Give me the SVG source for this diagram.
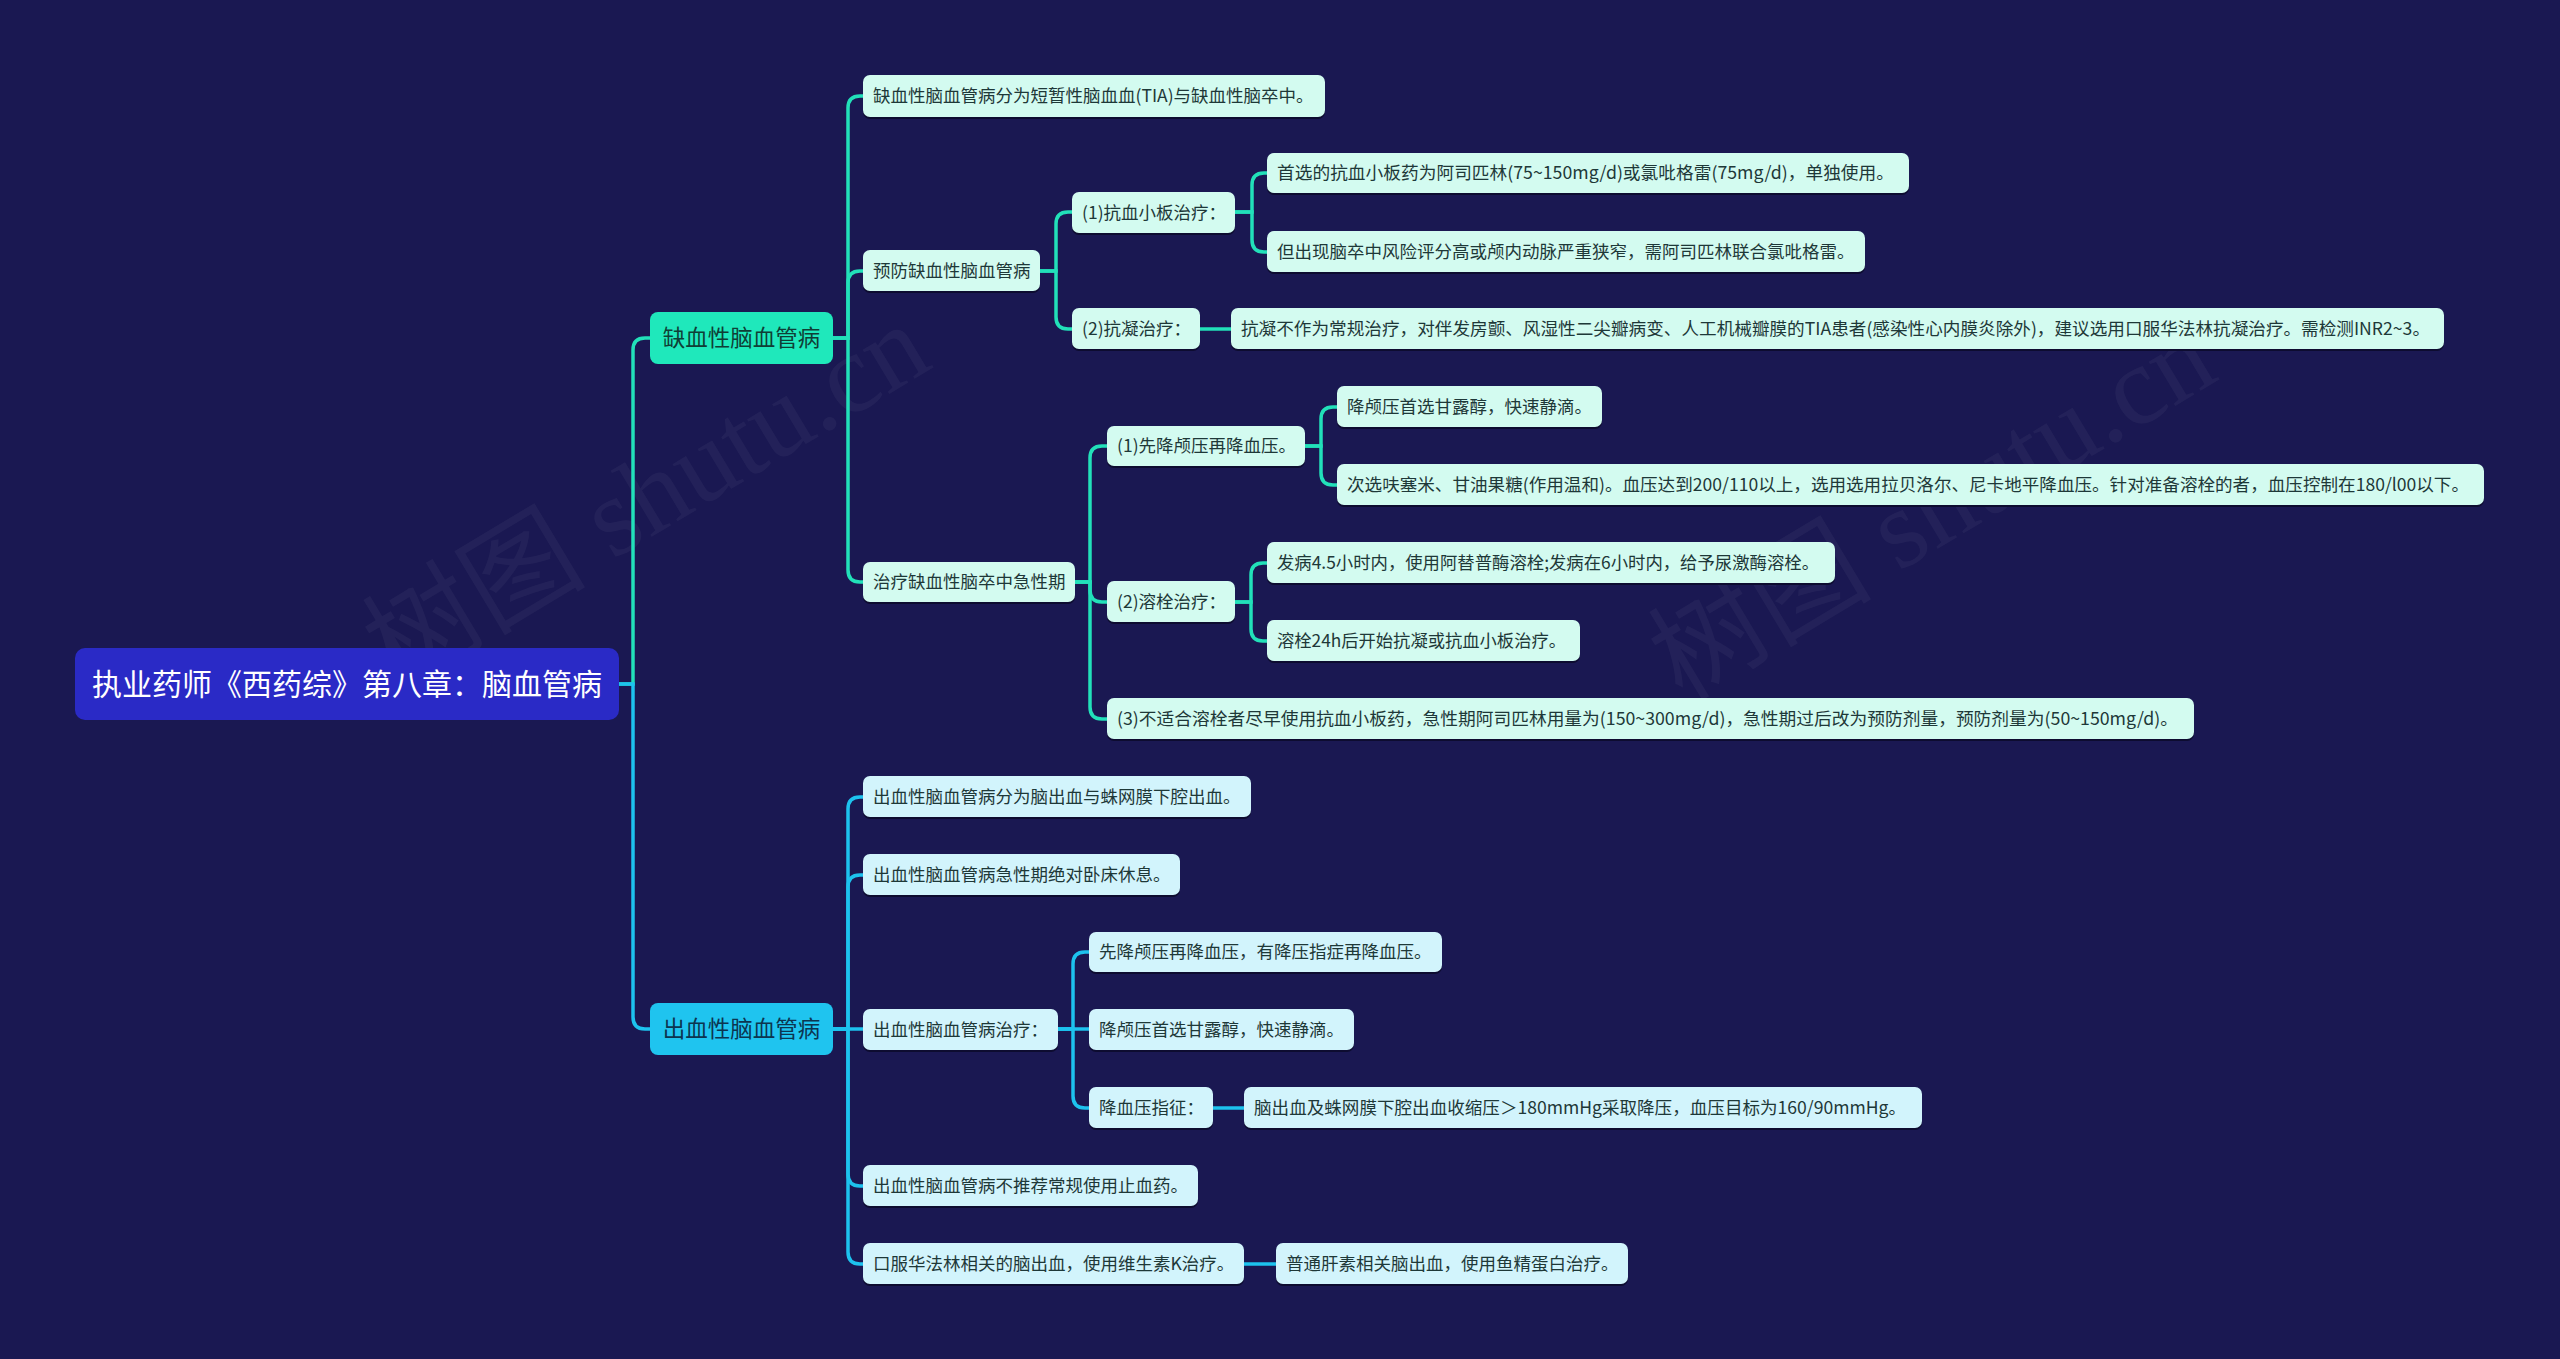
<svg xmlns="http://www.w3.org/2000/svg" width="2560" height="1359" viewBox="0 0 2560 1359">
<defs>
<style>
.bg{fill:#1a1852}
.wm{font-family:"Liberation Serif","Noto Sans CJK SC",serif;font-size:112px;fill:#ffffff;fill-opacity:0.045}
.root rect.b{fill:#2a2ac6}
.root text{font-family:"Noto Sans CJK SC","Noto Sans",sans-serif;font-size:30px;fill:#ffffff}
.l1 text{font-family:"Noto Sans CJK SC","Noto Sans",sans-serif;font-size:22.5px}
.isc rect.b{fill:#1fe8bb}
.isc text{fill:#0f3f36}
.hem rect.b{fill:#1fc4ef}
.hem text{fill:#0c3550}
.leaf text{font-family:"Noto Sans CJK SC","Noto Sans",sans-serif;font-size:17.5px;fill:#1e3838}
.li rect.b{fill:#d3fbf0}
.lh rect.b{fill:#d2f4fc}
rect.s{fill:#0d0c30}
.ci{fill:none;stroke:#22e0b9;stroke-width:3.5}
.ch{fill:none;stroke:#1dc2ee;stroke-width:3.5}
</style>
</defs>
<rect class="bg" x="0" y="0" width="2560" height="1359"/>
<g id="watermarks">
<text class="wm" x="645" y="534" text-anchor="middle" transform="rotate(-31 645 494)">树图 shutu.cn</text>
<text class="wm" x="1931" y="546" text-anchor="middle" transform="rotate(-31 1931 506)">树图 shutu.cn</text>
</g>
<g id="connectors">
<path class="ci" d="M619,684 H633 V350 Q633,338 645,338 H650"/>
<path class="ch" d="M619,684 H633 V1017 Q633,1029 645,1029 H650"/>
<path class="ci" d="M833,338 H848 V108 Q848,96 860,96 H863"/>
<path class="ci" d="M833,338 H848 V283 Q848,271 860,271 H863"/>
<path class="ci" d="M833,338 H848 V570 Q848,582 860,582 H863"/>
<path class="ci" d="M1040,271 H1056 V224 Q1056,212 1068,212 H1072"/>
<path class="ci" d="M1040,271 H1056 V317 Q1056,329 1068,329 H1072"/>
<path class="ci" d="M1235,212 H1252 V185 Q1252,173 1264,173 H1267"/>
<path class="ci" d="M1235,212 H1252 V240 Q1252,252 1264,252 H1267"/>
<path class="ci" d="M1200,329 H1231"/>
<path class="ci" d="M1075,582 H1090 V458 Q1090,446 1102,446 H1107"/>
<path class="ci" d="M1075,582 H1090 V590 Q1090,602 1102,602 H1107"/>
<path class="ci" d="M1075,582 H1090 V707 Q1090,719 1102,719 H1107"/>
<path class="ci" d="M1305,446 H1321 V419 Q1321,407 1333,407 H1337"/>
<path class="ci" d="M1305,446 H1321 V473 Q1321,485 1333,485 H1337"/>
<path class="ci" d="M1235,602 H1251 V575 Q1251,563 1263,563 H1267"/>
<path class="ci" d="M1235,602 H1251 V629 Q1251,641 1263,641 H1267"/>
<path class="ch" d="M833,1029 H848 V809 Q848,797 860,797 H863"/>
<path class="ch" d="M833,1029 H848 V887 Q848,875 860,875 H863"/>
<path class="ch" d="M833,1029 H863"/>
<path class="ch" d="M833,1029 H848 V1174 Q848,1186 860,1186 H863"/>
<path class="ch" d="M833,1029 H848 V1252 Q848,1264 860,1264 H863"/>
<path class="ch" d="M1058,1029 H1073 V964 Q1073,952 1085,952 H1089"/>
<path class="ch" d="M1058,1029 H1089"/>
<path class="ch" d="M1058,1029 H1073 V1096 Q1073,1108 1085,1108 H1089"/>
<path class="ch" d="M1213,1108 H1244"/>
<path class="ch" d="M1244,1264 H1276"/>
</g>
<g id="root" class="root">
<rect class="b" x="75" y="648" width="544" height="72" rx="10"/>
<text x="347" y="695" text-anchor="middle">执业药师《西药综》第八章：脑血管病</text>
</g>
<g id="n-isc" class="l1 isc">
<rect class="b" x="650" y="312" width="183" height="52" rx="8"/>
<text x="741.5" y="346" text-anchor="middle">缺血性脑血管病</text>
</g>
<g id="n-hem" class="l1 hem">
<rect class="b" x="650" y="1003" width="183" height="52" rx="8"/>
<text x="741.5" y="1037" text-anchor="middle">出血性脑血管病</text>
</g>
<g id="a1" class="leaf li">
<rect class="s" x="863" y="77" width="462" height="42" rx="7"/>
<rect class="b" x="863" y="75" width="462" height="42" rx="7"/>
<text x="873" y="102">缺血性脑血管病分为短暂性脑血血(TIA)与缺血性脑卒中。</text>
</g>
<g id="a2" class="leaf li">
<rect class="s" x="863" y="252" width="177" height="41" rx="7"/>
<rect class="b" x="863" y="250" width="177" height="41" rx="7"/>
<text x="873" y="277">预防缺血性脑血管病</text>
</g>
<g id="a3" class="leaf li">
<rect class="s" x="863" y="564" width="212" height="40" rx="7"/>
<rect class="b" x="863" y="562" width="212" height="40" rx="7"/>
<text x="873" y="588">治疗缺血性脑卒中急性期</text>
</g>
<g id="b1" class="leaf li">
<rect class="s" x="1072" y="194" width="163" height="41" rx="7"/>
<rect class="b" x="1072" y="192" width="163" height="41" rx="7"/>
<text x="1082" y="219">(1)抗血小板治疗：</text>
</g>
<g id="b2" class="leaf li">
<rect class="s" x="1072" y="310" width="128" height="41" rx="7"/>
<rect class="b" x="1072" y="308" width="128" height="41" rx="7"/>
<text x="1082" y="335">(2)抗凝治疗：</text>
</g>
<g id="c1" class="leaf li">
<rect class="s" x="1267" y="155" width="642" height="40" rx="7"/>
<rect class="b" x="1267" y="153" width="642" height="40" rx="7"/>
<text x="1277" y="179" textLength="617" lengthAdjust="spacingAndGlyphs">首选的抗血小板药为阿司匹林(75~150mg/d)或氯吡格雷(75mg/d)，单独使用。</text>
</g>
<g id="c2" class="leaf li">
<rect class="s" x="1267" y="233" width="598" height="41" rx="7"/>
<rect class="b" x="1267" y="231" width="598" height="41" rx="7"/>
<text x="1277" y="258">但出现脑卒中风险评分高或颅内动脉严重狭窄，需阿司匹林联合氯吡格雷。</text>
</g>
<g id="c3" class="leaf li">
<rect class="s" x="1231" y="310" width="1213" height="41" rx="7"/>
<rect class="b" x="1231" y="308" width="1213" height="41" rx="7"/>
<text x="1241" y="335" textLength="1189" lengthAdjust="spacingAndGlyphs">抗凝不作为常规治疗，对伴发房颤、风湿性二尖瓣病变、人工机械瓣膜的TIA患者(感染性心内膜炎除外)，建议选用口服华法林抗凝治疗。需检测INR2~3。</text>
</g>
<g id="d1" class="leaf li">
<rect class="s" x="1107" y="428" width="198" height="40" rx="7"/>
<rect class="b" x="1107" y="426" width="198" height="40" rx="7"/>
<text x="1117" y="452">(1)先降颅压再降血压。</text>
</g>
<g id="d2" class="leaf li">
<rect class="s" x="1107" y="583" width="128" height="41" rx="7"/>
<rect class="b" x="1107" y="581" width="128" height="41" rx="7"/>
<text x="1117" y="608">(2)溶栓治疗：</text>
</g>
<g id="d3" class="leaf li">
<rect class="s" x="1107" y="700" width="1087" height="41" rx="7"/>
<rect class="b" x="1107" y="698" width="1087" height="41" rx="7"/>
<text x="1117" y="725" textLength="1061" lengthAdjust="spacingAndGlyphs">(3)不适合溶栓者尽早使用抗血小板药，急性期阿司匹林用量为(150~300mg/d)，急性期过后改为预防剂量，预防剂量为(50~150mg/d)。</text>
</g>
<g id="e1" class="leaf li">
<rect class="s" x="1337" y="388" width="265" height="41" rx="7"/>
<rect class="b" x="1337" y="386" width="265" height="41" rx="7"/>
<text x="1347" y="413">降颅压首选甘露醇，快速静滴。</text>
</g>
<g id="e2" class="leaf li">
<rect class="s" x="1337" y="466" width="1147" height="41" rx="7"/>
<rect class="b" x="1337" y="464" width="1147" height="41" rx="7"/>
<text x="1347" y="491" textLength="1122" lengthAdjust="spacingAndGlyphs">次选呋塞米、甘油果糖(作用温和)。血压达到200/110以上，选用选用拉贝洛尔、尼卡地平降血压。针对准备溶栓的者，血压控制在180/l00以下。</text>
</g>
<g id="e3" class="leaf li">
<rect class="s" x="1267" y="544" width="568" height="41" rx="7"/>
<rect class="b" x="1267" y="542" width="568" height="41" rx="7"/>
<text x="1277" y="569" textLength="542" lengthAdjust="spacingAndGlyphs">发病4.5小时内，使用阿替普酶溶栓;发病在6小时内，给予尿激酶溶栓。</text>
</g>
<g id="e4" class="leaf li">
<rect class="s" x="1267" y="622" width="313" height="41" rx="7"/>
<rect class="b" x="1267" y="620" width="313" height="41" rx="7"/>
<text x="1277" y="647" textLength="289" lengthAdjust="spacingAndGlyphs">溶栓24h后开始抗凝或抗血小板治疗。</text>
</g>
<g id="f1" class="leaf lh">
<rect class="s" x="863" y="778" width="388" height="41" rx="7"/>
<rect class="b" x="863" y="776" width="388" height="41" rx="7"/>
<text x="873" y="803">出血性脑血管病分为脑出血与蛛网膜下腔出血。</text>
</g>
<g id="f2" class="leaf lh">
<rect class="s" x="863" y="856" width="317" height="41" rx="7"/>
<rect class="b" x="863" y="854" width="317" height="41" rx="7"/>
<text x="873" y="881">出血性脑血管病急性期绝对卧床休息。</text>
</g>
<g id="f3" class="leaf lh">
<rect class="s" x="863" y="1011" width="195" height="41" rx="7"/>
<rect class="b" x="863" y="1009" width="195" height="41" rx="7"/>
<text x="873" y="1036">出血性脑血管病治疗：</text>
</g>
<g id="f4" class="leaf lh">
<rect class="s" x="863" y="1167" width="335" height="41" rx="7"/>
<rect class="b" x="863" y="1165" width="335" height="41" rx="7"/>
<text x="873" y="1192">出血性脑血管病不推荐常规使用止血药。</text>
</g>
<g id="f5" class="leaf lh">
<rect class="s" x="863" y="1245" width="381" height="41" rx="7"/>
<rect class="b" x="863" y="1243" width="381" height="41" rx="7"/>
<text x="873" y="1270">口服华法林相关的脑出血，使用维生素K治疗。</text>
</g>
<g id="g1" class="leaf lh">
<rect class="s" x="1276" y="1245" width="352" height="41" rx="7"/>
<rect class="b" x="1276" y="1243" width="352" height="41" rx="7"/>
<text x="1286" y="1270">普通肝素相关脑出血，使用鱼精蛋白治疗。</text>
</g>
<g id="h1" class="leaf lh">
<rect class="s" x="1089" y="934" width="353" height="40" rx="7"/>
<rect class="b" x="1089" y="932" width="353" height="40" rx="7"/>
<text x="1099" y="958">先降颅压再降血压，有降压指症再降血压。</text>
</g>
<g id="h2" class="leaf lh">
<rect class="s" x="1089" y="1011" width="265" height="41" rx="7"/>
<rect class="b" x="1089" y="1009" width="265" height="41" rx="7"/>
<text x="1099" y="1036">降颅压首选甘露醇，快速静滴。</text>
</g>
<g id="h3" class="leaf lh">
<rect class="s" x="1089" y="1089" width="124" height="41" rx="7"/>
<rect class="b" x="1089" y="1087" width="124" height="41" rx="7"/>
<text x="1099" y="1114">降血压指征：</text>
</g>
<g id="i1" class="leaf lh">
<rect class="s" x="1244" y="1089" width="678" height="41" rx="7"/>
<rect class="b" x="1244" y="1087" width="678" height="41" rx="7"/>
<text x="1254" y="1114" textLength="652" lengthAdjust="spacingAndGlyphs">脑出血及蛛网膜下腔出血收缩压＞180mmHg采取降压，血压目标为160/90mmHg。</text>
</g>
</svg>
